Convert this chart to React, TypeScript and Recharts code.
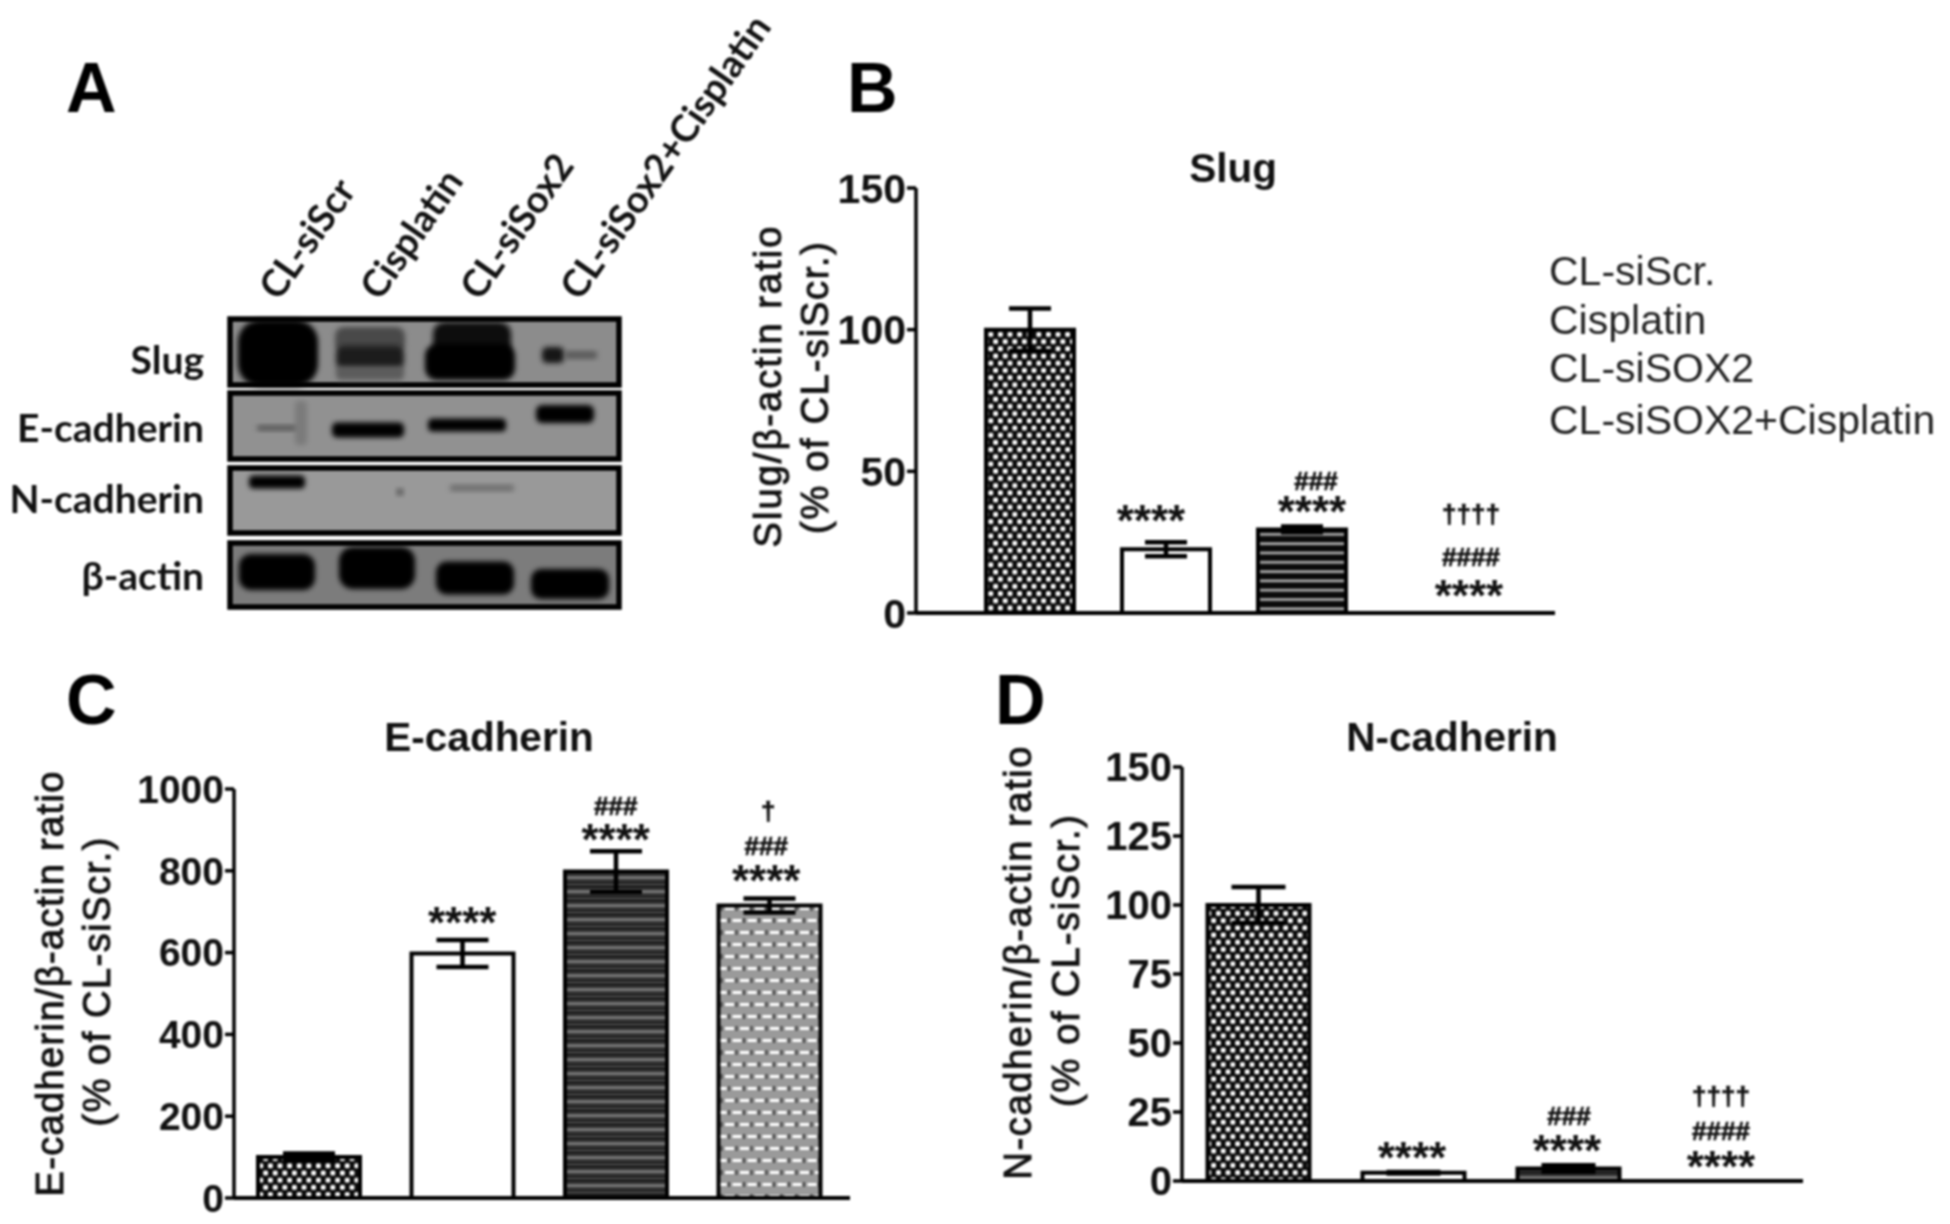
import React from "react";
import {
  BarChart, Bar, XAxis, YAxis, Cell, ErrorBar, ReferenceDot,
  ScatterChart, Scatter, ReferenceArea,
} from "recharts";

// ---------- data ----------
const groups = ["CL-siScr.", "Cisplatin", "CL-siSOX2", "CL-siSOX2+Cisplatin"];
const laneLabels = ["CL-siScr", "Cisplatin", "CL-siSox2", "CL-siSox2+Cisplatin"];
const blotRows = ["Slug", "E-cadherin", "N-cadherin", "β-actin"];

const slugValues = [100, 22.5, 29.5, 0];
const slugErrors = [7.5, 2.5, 1, null];
const slugTicks = [0, 50, 100, 150];

const ecadValues = [100, 598, 798, 715];
const ecadErrors = [9, 33, 50, 17];
const ecadTicks = [0, 200, 400, 600, 800, 1000];

const ncadValues = [100, 3, 4.5, 0];
const ncadErrors = [6.5, 0.3, 1.2, null];
const ncadTicks = [0, 25, 50, 75, 100, 125, 150];

const slugMarks = [
  { group: 1, level: 34, text: "****", shift: -15 },
  { group: 2, level: 37.3, text: "****", shift: 10 },
  { group: 2, level: 46.5, text: "###", shift: 14 },
  { group: 3, level: 7.7, text: "****", shift: 31 },
  { group: 3, level: 19.8, text: "####", shift: 33 },
  { group: 3, level: 35, text: "††††", shift: 33 },
];
const ecadMarks = [
  { group: 1, level: 682, text: "****", shift: 0 },
  { group: 2, level: 887, text: "****", shift: 0 },
  { group: 2, level: 958, text: "###", shift: 0 },
  { group: 3, level: 785, text: "****", shift: -3 },
  { group: 3, level: 860, text: "###", shift: -3 },
  { group: 3, level: 946, text: "†", shift: -1 },
];
const ncadMarks = [
  { group: 1, level: 10, text: "****", shift: -1 },
  { group: 2, level: 12.6, text: "****", shift: -1 },
  { group: 2, level: 23.5, text: "###", shift: 1 },
  { group: 3, level: 6.7, text: "****", shift: -2 },
  { group: 3, level: 18, text: "####", shift: -2 },
  { group: 3, level: 30.8, text: "††††", shift: -2 },
];

// density spots: lane position, migration position, extent, shade
const blotSpots = [
  { x: 53, y: 43, w: 80, h: 66, shade: "#000000" },
  { x: 145, y: 30, w: 70, h: 26, shade: "#4a4a4a" },
  { x: 145, y: 48, w: 68, h: 24, shade: "#1e1e1e" },
  { x: 145, y: 63, w: 68, h: 14, shade: "#5c5c5c" },
  { x: 247, y: 30, w: 78, h: 36, shade: "#0e0e0e" },
  { x: 245, y: 52, w: 90, h: 36, shade: "#000000" },
  { x: 328, y: 45, w: 22, h: 16, shade: "#151515" },
  { x: 356, y: 45, w: 32, h: 8, shade: "#5a5a5a" },
  { x: 53, y: 118, w: 42, h: 6, shade: "#5a5a5a" },
  { x: 76, y: 113, w: 12, h: 44, shade: "#7a7a7a" },
  { x: 143, y: 120, w: 72, h: 15, shade: "#050505" },
  { x: 242, y: 115, w: 78, h: 13, shade: "#000000" },
  { x: 340, y: 104, w: 58, h: 18, shade: "#000000" },
  { x: 52, y: 172, w: 56, h: 13, shade: "#000000" },
  { x: 175, y: 182, w: 7, h: 7, shade: "#5a5a5a" },
  { x: 257, y: 178, w: 64, h: 7, shade: "#707070" },
  { x: 52, y: 262, w: 76, h: 36, shade: "#030303" },
  { x: 152, y: 258, w: 76, h: 42, shade: "#030303" },
  { x: 250, y: 268, w: 78, h: 33, shade: "#030303" },
  { x: 345, y: 274, w: 78, h: 30, shade: "#000000" },
];
const blotFrames = [
  { y1: 9, y2: 75, fill: "#8c8c8c" },
  { y1: 83, y2: 149, fill: "#919191" },
  { y1: 158, y2: 223, fill: "#999999" },
  { y1: 233, y2: 297, fill: "#7c7c7c" },
];

// ---------- styles ----------
const SANS = "'Liberation Sans', Arial, sans-serif";
const LATO = "Lato, 'Open Sans', sans-serif";

const Patterns = ({ id }: { id: string }) => (
  <defs>
    <pattern id={`${id}-dots`} width="9.6" height="14.4" patternUnits="userSpaceOnUse">
      <rect width="9.6" height="14.4" fill="#0a0a0a" />
      <rect x="0" y="1.2" width="4.8" height="4.8" rx="1.2" fill="#fff" />
      <rect x="4.8" y="8.4" width="4.8" height="4.8" rx="1.2" fill="#fff" />
    </pattern>
    <pattern id={`${id}-stripes`} width="9.3" height="9.3" patternUnits="userSpaceOnUse">
      <rect width="9.3" height="9.3" fill="#0a0a0a" />
      <rect y="3" width="9.3" height="2.8" fill="#a8a8a8" />
    </pattern>
    <pattern id={`${id}-fine`} width="10" height="14" patternUnits="userSpaceOnUse">
      <rect width="10" height="14" fill="#404040" />
      <rect y="1" width="10" height="1.6" fill="#0a0a0a" />
      <rect y="6" width="10" height="1.2" fill="#a8a8a8" />
      <rect y="10.5" width="10" height="1.6" fill="#151515" />
    </pattern>
    <pattern id={`${id}-brick`} width="15" height="24" patternUnits="userSpaceOnUse">
      <rect width="15" height="24" fill="#9a9a9a" />
      <rect x="1" y="4" width="9" height="3" fill="#fff" />
      <rect x="11.5" y="3" width="2" height="5" fill="#444" />
      <rect x="8.5" y="16" width="9" height="3" fill="#fff" />
      <rect x="-6.5" y="16" width="9" height="3" fill="#fff" />
      <rect x="4" y="15" width="2" height="5" fill="#444" />
    </pattern>
    <filter id={`${id}-blur`} x="-30%" y="-30%" width="160%" height="160%">
      <feGaussianBlur stdDeviation="2.8" />
    </filter>
  </defs>
);

type Panel = {
  id: string; values: number[]; errors: (number | null)[]; ticks: number[]; max: number;
  marks: { group: number; level: number; text: string; shift: number }[];
  fills: string[];
  axisX: number; right: number; top: number; bottom: number;
  padL: number; padR: number; barSize: number; cap: number; tickFont: number;
};

const MarkText = (props: any) => {
  const { cx, cy, text, shift } = props;
  const star = text.includes("*");
  const size = star ? 44 : 26;
  const dy = star ? size * 0.44 : size * 0.35;
  return (
    <text x={cx + shift} y={cy + dy} textAnchor="middle" fontFamily={SANS}
      fontWeight="700" fontSize={size} fill="#111" stroke={star ? "none" : "#111"} strokeWidth={star ? 0 : 0.7}>{text}</text>
  );
};

function PanelChart(p: Panel) {
  const yWidth = 110;
  const pad = 30;
  const data = groups.map((name, i) => ({ name, value: p.values[i], err: p.errors[i] }));
  return (
    <div style={{ position: "absolute", left: p.axisX - yWidth, top: p.top - pad }}>
      <BarChart width={p.right - p.axisX + yWidth} height={p.bottom - p.top + 2 * pad} data={data}
        margin={{ top: pad, right: 0, bottom: pad - 1, left: 0 }} barSize={p.barSize}>
        <Patterns id={p.id} />
        <XAxis dataKey="name" tick={false} tickLine={false} height={1} interval={0}
          axisLine={{ stroke: "#000", strokeWidth: 4 }} padding={{ left: p.padL, right: p.padR }} />
        <YAxis width={yWidth} domain={[0, p.max]} ticks={p.ticks} interval={0} tickSize={9} tickMargin={1}
          allowDataOverflow axisLine={{ stroke: "#000", strokeWidth: 3.5 }} tickLine={{ stroke: "#000", strokeWidth: 3.5 }}
          tick={{ fontFamily: SANS, fontWeight: 700, fontSize: p.tickFont, fill: "#111" }} />
        <Bar dataKey="value" isAnimationActive={false} stroke="#000" strokeWidth={4}>
          {data.map((d, i) => <Cell key={d.name} fill={p.fills[i]} />)}
          <ErrorBar dataKey="err" direction="y" width={p.cap} stroke="#000" strokeWidth={4.5} isAnimationActive={false} />
        </Bar>
        {p.marks.map((m, i) => (
          <ReferenceDot key={i} x={groups[m.group]} y={m.level} r={0} ifOverflow="visible"
            shape={(s: any) => <MarkText cx={s.cx} cy={s.cy} text={m.text} shift={m.shift} />} />
        ))}
      </BarChart>
    </div>
  );
}

function Blot() {
  return (
    <div style={{ position: "absolute", left: 225, top: 310 }}>
      <ScatterChart width={400} height={305} margin={{ top: 0, right: 0, bottom: 0, left: 0 }}>
        <Patterns id="blot" />
        <XAxis type="number" dataKey="x" domain={[0, 400]} hide />
        <YAxis type="number" dataKey="y" domain={[0, 305]} reversed hide width={0} />
        {blotFrames.map((f) => (
          <ReferenceArea key={f.y1} x1={5} x2={394} y1={f.y1} y2={f.y2} fill={f.fill} fillOpacity={1}
            stroke="#000" strokeWidth={5.5} ifOverflow="visible" />
        ))}
        <Scatter data={blotSpots} isAnimationActive={false}
          shape={(s: any) => {
            const { w, h, shade } = s.payload;
            return <rect x={s.cx - w / 2} y={s.cy - h / 2} width={w} height={h}
              rx={Math.min(w, h) / 3} fill={shade} filter="url(#blot-blur)" />;
          }} />
      </ScatterChart>
    </div>
  );
}

const panelLetters = [
  { t: "A", x: 66, y: 112 }, { t: "B", x: 847, y: 112 },
  { t: "C", x: 66, y: 724 }, { t: "D", x: 995, y: 724 },
];
const laneStarts = [279, 380, 480, 580];
const rowCentres = [359, 427, 498, 575];
const legendRows = [271, 320, 368, 420];

function Overlay() {
  const vertical = (t: string, x: number, y: number, len: number) => (
    <text key={t + x} transform={`translate(${x},${y}) rotate(-90)`} textAnchor="middle" dominantBaseline="central"
      fontFamily={SANS} fontSize={38} fill="#111" stroke="#111" strokeWidth={1}
      textLength={len} lengthAdjust="spacing">{t}</text>
  );
  const title = (t: string, x: number, y: number) => (
    <text key={t + "t"} x={x} y={y} textAnchor="middle" dominantBaseline="central"
      fontFamily={SANS} fontWeight={700} fontSize={40.5} fill="#111">{t}</text>
  );
  return (
    <svg width={1950} height={1224} style={{ position: "absolute", left: 0, top: 0, pointerEvents: "none" }}>
      {panelLetters.map((l) => (
        <text key={l.t} x={l.x} y={l.y} fontFamily={SANS} fontWeight={700} fontSize={70} fill="#000">{l.t}</text>
      ))}
      {laneLabels.map((t, i) => (
        <text key={t} transform={`translate(${laneStarts[i]},${302}) rotate(-55)`} fontFamily={LATO} fontWeight={700}
          fontSize={38} fill="#111">{t}</text>
      ))}
      {blotRows.map((t, i) => (
        <text key={t} x={204} y={rowCentres[i]} textAnchor="end" dominantBaseline="central"
          fontFamily={LATO} fontWeight={700} fontSize={39} fill="#111">{t}</text>
      ))}
      {groups.map((t, i) => (
        <text key={t} x={1549} y={legendRows[i]} dominantBaseline="central" fontFamily={SANS}
          fontSize={41} fill="#222">{t}</text>
      ))}
      {title("Slug", 1233, 168)}
      {title("E-cadherin", 489, 737)}
      {title("N-cadherin", 1452, 737)}
      {vertical("Slug/β-actin ratio", 768, 387, 321)}
      {vertical("(% of CL-siScr.)", 815, 388, 292)}
      {vertical("E-cadherin/β-actin ratio", 50, 984, 425)}
      {vertical("(% of CL-siScr.)", 97, 982, 289)}
      {vertical("N-cadherin/β-actin ratio", 1018, 963, 433)}
      {vertical("(% of CL-siScr.)", 1066, 961, 292)}
    </svg>
  );
}

export default function App() {
  return (
    <div style={{ position: "absolute", left: 0, top: 0, width: 1950, height: 1224, background: "#fff", overflow: "hidden", filter: "blur(0.8px)" }}>
      <Blot />
      <PanelChart id="b" values={slugValues} errors={slugErrors} ticks={slugTicks} max={150} marks={slugMarks}
        fills={["url(#b-dots)", "#fff", "url(#b-stripes)", "#fff"]}
        axisX={916} right={1555} top={188} bottom={613} padL={46} padR={49} barSize={88} cap={21} tickFont={41} />
      <PanelChart id="c" values={ecadValues} errors={ecadErrors} ticks={ecadTicks} max={1000} marks={ecadMarks}
        fills={["url(#c-dots)", "#fff", "url(#c-fine)", "url(#c-brick)"]}
        axisX={234} right={850} top={789} bottom={1198} padL={-2} padR={4} barSize={102} cap={26} tickFont={39} />
      <PanelChart id="d" values={ncadValues} errors={ncadErrors} ticks={ncadTicks} max={150} marks={ncadMarks}
        fills={["url(#d-dots)", "#fff", "url(#d-fine)", "#fff"]}
        axisX={1182} right={1803} top={767} bottom={1181} padL={-1.5} padR={2.5} barSize={102} cap={27} tickFont={40} />
      <Overlay />
    </div>
  );
}
